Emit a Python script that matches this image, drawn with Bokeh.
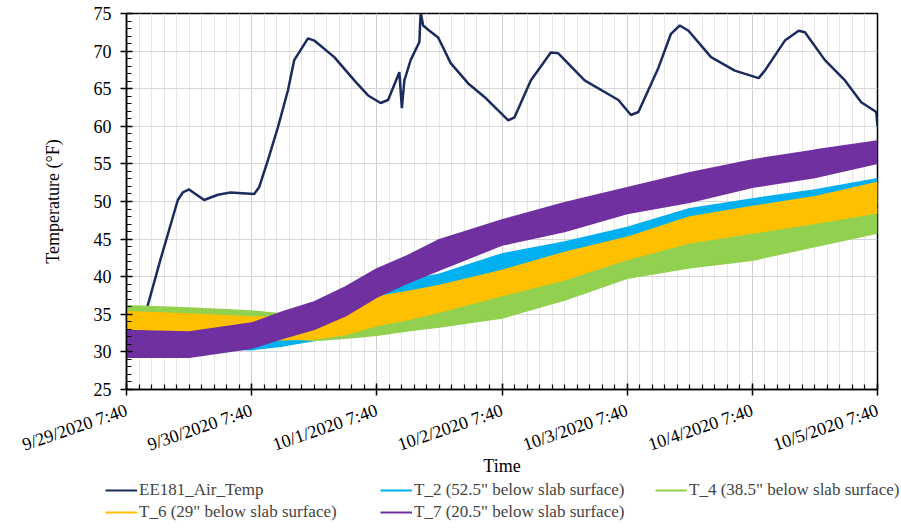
from bokeh.plotting import figure
from bokeh.models import Range1d, FixedTicker, Legend, LegendItem
from bokeh.layouts import column
from bokeh.embed import file_html
from bokeh.resources import INLINE

# ---- data (days since 9/29/2020 7:40) ----
tick_days = [0, 1, 2, 3, 4, 5, 6]
tick_labels = ["9/29/2020 7:40", "9/30/2020 7:40", "10/1/2020 7:40", "10/2/2020 7:40",
               "10/3/2020 7:40", "10/4/2020 7:40", "10/5/2020 7:40"]
y_ticks = [25, 30, 35, 40, 45, 50, 55, 60, 65, 70, 75]

air_days = [0, 0.08, 0.15, 0.27, 0.41, 0.45, 0.50, 0.62, 0.73, 0.83, 1.02, 1.06, 1.13, 1.21,
            1.29, 1.34, 1.45, 1.50, 1.66, 1.82, 1.93, 2.03, 2.09, 2.18, 2.20, 2.22, 2.27,
            2.34, 2.35, 2.37, 2.42, 2.49, 2.59, 2.73, 2.86, 3.05, 3.10, 3.23, 3.39, 3.45,
            3.66, 3.93, 4.03, 4.09, 4.25, 4.35, 4.42, 4.49, 4.67, 4.86, 5.05, 5.10, 5.26,
            5.37, 5.42, 5.58, 5.74, 5.87, 5.99, 6.0]
air_temp = [31.0, 32.5, 35.0, 42.2, 50.2, 51.2, 51.6, 50.2, 50.9, 51.2, 51.0, 51.9, 55.5, 59.9,
            64.8, 68.8, 71.7, 71.4, 69.2, 66.1, 64.1, 63.1, 63.5, 67.2, 62.4, 66.1, 68.8,
            71.2, 75.2, 73.4, 72.7, 71.8, 68.4, 65.7, 63.9, 60.8, 61.2, 66.1, 69.8, 69.7,
            66.1, 63.5, 61.5, 61.9, 67.8, 72.3, 73.4, 72.7, 69.2, 67.4, 66.4, 67.4, 71.4,
            72.7, 72.5, 68.8, 66.1, 63.2, 61.9, 60.0]

band_days = [0, 0.5, 1.0, 1.25, 1.5, 1.75, 2.0, 2.25, 2.5, 3.0, 3.5, 4.0, 4.5, 5.0, 5.5, 6.0]
t2_low  = [30.5, 30.5, 30.3, 30.8, 31.5, 33.0, 34.5, 36.0, 37.0, 39.5, 41.2, 43.3, 45.5, 47.0, 48.5, 50.0]
t2_high = [33.0, 33.0, 33.5, 34.3, 35.3, 37.0, 38.5, 39.5, 40.3, 43.0, 44.6, 46.5, 49.0, 50.3, 51.5, 53.0]
t4_low  = [32.8, 32.8, 32.3, 31.8, 31.5, 31.8, 32.2, 32.8, 33.3, 34.5, 36.9, 39.8, 41.2, 42.2, 44.0, 45.8]
t4_high = [36.1, 35.8, 35.4, 35.0, 34.8, 35.0, 35.5, 36.0, 36.6, 38.0, 40.5, 43.3, 45.3, 46.6, 47.6, 49.0]
t6_low  = [31.8, 32.0, 31.6, 31.6, 31.7, 32.3, 33.5, 34.3, 35.3, 37.5, 39.6, 42.3, 44.5, 45.8, 47.1, 48.5]
t6_high = [35.3, 35.0, 34.6, 34.6, 35.2, 36.0, 37.3, 38.0, 38.8, 40.8, 43.2, 45.2, 47.9, 49.3, 50.6, 52.5]
t7_low  = [29.3, 29.3, 30.5, 31.8, 33.0, 34.8, 37.3, 39.2, 40.9, 44.2, 46.0, 48.4, 49.9, 51.9, 53.2, 55.1]
t7_high = [32.8, 32.6, 33.8, 35.3, 36.6, 38.6, 41.0, 42.8, 44.9, 47.5, 49.8, 51.8, 53.8, 55.5, 56.8, 58.0]

names = ["EE181_Air_Temp", 'T_2 (52.5" below slab surface)', 'T_4 (38.5" below slab surface)',
         'T_6 (29" below slab surface)', 'T_7 (20.5" below slab surface)']
colors = ["#1b2b5e", "#00b0f0", "#92d050", "#ffc000", "#7030a0"]

FONT = "Liberation Serif"

p = figure(width=901, height=478, output_backend="svg", toolbar_location=None,
           x_range=Range1d(0, 6), y_range=Range1d(25, 75),
           min_border_left=126, min_border_right=24, min_border_top=13, min_border_bottom=88)
p.background_fill_color = "white"
p.border_fill_color = "white"
p.outline_line_color = "black"
p.outline_line_width = 1.5

xt = FixedTicker(ticks=tick_days, minor_ticks=[i / 10 for i in range(61)])
yt = FixedTicker(ticks=y_ticks, minor_ticks=list(range(25, 76)))
p.xaxis.ticker = xt
p.yaxis.ticker = yt
p.xgrid.ticker = xt
p.ygrid.ticker = yt
p.xgrid.grid_line_color = "#cfcfcf"
p.xgrid.minor_grid_line_color = "#e6e6e6"
p.ygrid.grid_line_color = "#d6d6d6"

p.xaxis.major_label_overrides = {d: lab for d, lab in zip(tick_days, tick_labels)}
p.xaxis.major_label_orientation = 0.33

for ax in (p.xaxis[0], p.yaxis[0]):
    ax.axis_line_color = "black"
    ax.axis_line_width = 1.5
    ax.major_tick_line_color = "black"
    ax.minor_tick_line_color = "black"
    ax.major_tick_line_width = 1.5
    ax.minor_tick_line_width = 1.2
    ax.major_tick_in = 6
    ax.major_tick_out = 6
    ax.minor_tick_in = 5
    ax.minor_tick_out = 0
    ax.major_label_text_font = FONT
    ax.major_label_text_font_size = "18px"
    ax.major_label_text_color = "black"
    ax.axis_label_text_font = FONT
    ax.axis_label_text_font_size = "18px"
    ax.axis_label_text_font_style = "normal"
    ax.axis_label_text_color = "black"

p.yaxis.axis_label = "Temperature (°F)"
p.yaxis.major_label_standoff = 9
p.yaxis.axis_label_standoff = 28
p.xaxis.axis_label = "Time"
p.xaxis.major_label_standoff = 14
p.xaxis.axis_label_standoff = -11

# air temperature (drawn first, underneath)
p.line(air_days, air_temp, line_color=colors[0], line_width=2.5)

for lo, hi, c in [(t2_low, t2_high, colors[1]), (t4_low, t4_high, colors[2]),
                  (t6_low, t6_high, colors[3]), (t7_low, t7_high, colors[4])]:
    p.varea(x=band_days, y1=lo, y2=hi, fill_color=c, fill_alpha=1.0)
    p.line(band_days, lo, line_color=c, line_width=1.5)
    p.line(band_days, hi, line_color=c, line_width=2)

# ---- legend strip below the chart ----
q = figure(width=901, height=51, output_backend="svg", toolbar_location=None,
           x_range=Range1d(0, 1), y_range=Range1d(0, 1),
           min_border_left=0, min_border_right=0, min_border_top=0, min_border_bottom=0)
q.axis.visible = False
q.grid.visible = False
q.outline_line_color = None
q.background_fill_color = "white"
q.border_fill_color = "white"

legend_x = -21
try:
    q.frame_align = False
    legend_x = 105
except Exception:
    pass

# off-range dummy lines, only used for the legend glyphs
legend_renderers = [q.line([5, 6], [5, 5], line_color=c, line_width=2) for c in colors]
items = [LegendItem(label=n, renderers=[r]) for n, r in zip(names, legend_renderers)]
legend = Legend(items=items, location=(legend_x, 7), orientation="horizontal", ncols=3,
                label_text_font=FONT, label_text_font_size="17px",
                glyph_width=32, glyph_height=20, label_height=20, label_width=239,
                label_standoff=2, spacing=2, padding=0, margin=0,
                border_line_color=None, background_fill_alpha=0)
q.add_layout(legend)

open("out.html", "w").write(file_html(column(p, q, spacing=0), INLINE))
